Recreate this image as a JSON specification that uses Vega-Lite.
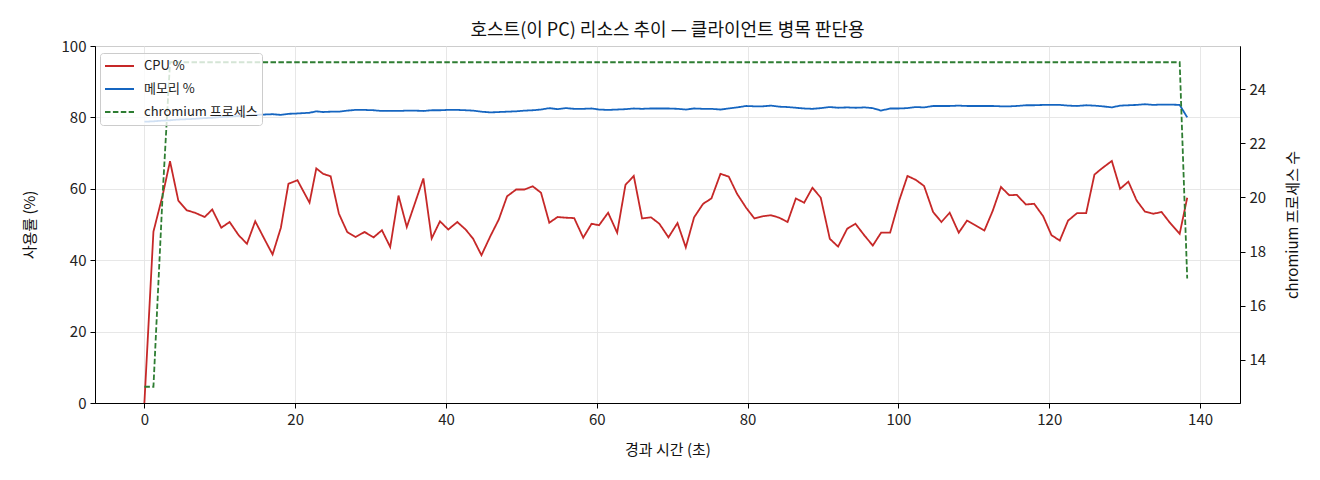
{
  "$schema": "https://vega.github.io/schema/vega-lite/v6.json",
  "width": 1145,
  "height": 357,
  "autosize": {"type": "none"},
  "padding": {"left": 95, "top": 46, "right": 80, "bottom": 77},
  "background": "white",
  "title": {"text": "호스트(이 PC) 리소스 추이 — 클라이언트 병목 판단용", "fontSize": 18, "fontWeight": "normal", "font": "Noto Sans CJK KR", "color": "#111", "offset": -1},
  "config": {
    "view": {"stroke": "#000", "strokeWidth": 1},
    "font": "Noto Sans CJK KR",
    "axis": {"domainColor": "#000", "tickColor": "#000", "tickSize": 5, "labelFontSize": 15, "labelColor": "#222", "titleFontSize": 15, "titleFontWeight": "normal", "titleColor": "#111", "gridColor": "#e4e4e4", "gridWidth": 0.9, "labelPadding": 4},
    "legend": {"title": null, "orient": "none", "legendX": 5, "legendY": 7, "symbolType": "stroke", "symbolSize": 841, "symbolStrokeWidth": 1.8, "clipHeight": 18, "labelOffset": 9, "labelFontSize": 13, "labelColor": "#222", "padding": 4, "rowPadding": 5, "strokeColor": "#cccccc", "fillColor": "rgba(255,255,255,0.8)", "cornerRadius": 3}
  },
  "data": {"values": [
    {"t":0,"cpu":0,"mem":78.8,"proc":13},
    {"t":1.2,"cpu":48.0,"mem":78.9,"proc":13},
    {"t":2.4,"cpu":58.0,"mem":79.1,"proc":20},
    {"t":3.4,"cpu":67.7,"mem":79.2,"proc":25},
    {"t":4.5,"cpu":56.7,"mem":79.4,"proc":25},
    {"t":5.6,"cpu":54.0,"mem":79.5,"proc":25},
    {"t":6.7,"cpu":53.3,"mem":79.6,"proc":25},
    {"t":8.0,"cpu":52.1,"mem":79.8,"proc":25},
    {"t":9.0,"cpu":54.2,"mem":79.9,"proc":25},
    {"t":10.2,"cpu":49.1,"mem":80.1,"proc":25},
    {"t":11.3,"cpu":50.7,"mem":80.2,"proc":25},
    {"t":12.5,"cpu":47.0,"mem":80.4,"proc":25},
    {"t":13.6,"cpu":44.6,"mem":80.5,"proc":25},
    {"t":14.7,"cpu":50.9,"mem":80.7,"proc":25},
    {"t":15.9,"cpu":46.0,"mem":80.8,"proc":25},
    {"t":17.0,"cpu":41.6,"mem":80.9,"proc":25},
    {"t":18.1,"cpu":49.1,"mem":80.7,"proc":25},
    {"t":19.1,"cpu":61.4,"mem":81.0,"proc":25},
    {"t":20.3,"cpu":62.4,"mem":81.1,"proc":25},
    {"t":21.9,"cpu":56.1,"mem":81.3,"proc":25},
    {"t":22.8,"cpu":65.7,"mem":81.7,"proc":25},
    {"t":23.7,"cpu":64.2,"mem":81.5,"proc":25},
    {"t":24.7,"cpu":63.5,"mem":81.6,"proc":25},
    {"t":25.8,"cpu":53.0,"mem":81.6,"proc":25},
    {"t":26.9,"cpu":47.9,"mem":81.9,"proc":25},
    {"t":28.0,"cpu":46.5,"mem":82.1,"proc":25},
    {"t":29.2,"cpu":47.9,"mem":82.1,"proc":25},
    {"t":30.4,"cpu":46.4,"mem":82.0,"proc":25},
    {"t":31.5,"cpu":48.4,"mem":81.8,"proc":25},
    {"t":32.6,"cpu":43.7,"mem":81.8,"proc":25},
    {"t":33.7,"cpu":58.1,"mem":81.8,"proc":25},
    {"t":34.8,"cpu":49.3,"mem":81.9,"proc":25},
    {"t":35.9,"cpu":56.1,"mem":81.9,"proc":25},
    {"t":37.0,"cpu":62.9,"mem":81.8,"proc":25},
    {"t":38.1,"cpu":46.1,"mem":82.0,"proc":25},
    {"t":39.2,"cpu":50.9,"mem":82.0,"proc":25},
    {"t":40.3,"cpu":48.6,"mem":82.1,"proc":25},
    {"t":41.5,"cpu":50.7,"mem":82.1,"proc":25},
    {"t":42.6,"cpu":48.6,"mem":82.0,"proc":25},
    {"t":43.6,"cpu":46.0,"mem":81.9,"proc":25},
    {"t":44.7,"cpu":41.4,"mem":81.6,"proc":25},
    {"t":45.9,"cpu":46.8,"mem":81.4,"proc":25},
    {"t":47.0,"cpu":51.4,"mem":81.5,"proc":25},
    {"t":48.1,"cpu":57.9,"mem":81.6,"proc":25},
    {"t":49.3,"cpu":59.8,"mem":81.7,"proc":25},
    {"t":50.4,"cpu":59.8,"mem":81.9,"proc":25},
    {"t":51.5,"cpu":60.7,"mem":82.0,"proc":25},
    {"t":52.6,"cpu":58.9,"mem":82.2,"proc":25},
    {"t":53.7,"cpu":50.5,"mem":82.6,"proc":25},
    {"t":54.8,"cpu":52.1,"mem":82.3,"proc":25},
    {"t":55.9,"cpu":51.9,"mem":82.6,"proc":25},
    {"t":57.0,"cpu":51.8,"mem":82.4,"proc":25},
    {"t":58.2,"cpu":46.3,"mem":82.4,"proc":25},
    {"t":59.3,"cpu":50.2,"mem":82.5,"proc":25},
    {"t":60.3,"cpu":49.8,"mem":82.2,"proc":25},
    {"t":61.5,"cpu":53.3,"mem":82.1,"proc":25},
    {"t":62.7,"cpu":47.7,"mem":82.2,"proc":25},
    {"t":63.8,"cpu":61.1,"mem":82.3,"proc":25},
    {"t":64.9,"cpu":63.6,"mem":82.5,"proc":25},
    {"t":66.0,"cpu":51.7,"mem":82.4,"proc":25},
    {"t":67.2,"cpu":52.0,"mem":82.5,"proc":25},
    {"t":68.3,"cpu":50.2,"mem":82.5,"proc":25},
    {"t":69.5,"cpu":46.4,"mem":82.5,"proc":25},
    {"t":70.7,"cpu":50.4,"mem":82.4,"proc":25},
    {"t":71.8,"cpu":43.6,"mem":82.2,"proc":25},
    {"t":72.9,"cpu":52.0,"mem":82.5,"proc":25},
    {"t":74.1,"cpu":55.8,"mem":82.4,"proc":25},
    {"t":75.2,"cpu":57.3,"mem":82.4,"proc":25},
    {"t":76.4,"cpu":64.2,"mem":82.2,"proc":25},
    {"t":77.5,"cpu":63.4,"mem":82.5,"proc":25},
    {"t":78.6,"cpu":58.6,"mem":82.8,"proc":25},
    {"t":79.8,"cpu":54.7,"mem":83.2,"proc":25},
    {"t":80.9,"cpu":51.7,"mem":83.1,"proc":25},
    {"t":82.0,"cpu":52.3,"mem":83.1,"proc":25},
    {"t":83.1,"cpu":52.6,"mem":83.3,"proc":25},
    {"t":84.2,"cpu":51.9,"mem":83.0,"proc":25},
    {"t":85.3,"cpu":50.7,"mem":82.9,"proc":25},
    {"t":86.4,"cpu":57.3,"mem":82.7,"proc":25},
    {"t":87.5,"cpu":56.1,"mem":82.5,"proc":25},
    {"t":88.6,"cpu":60.3,"mem":82.4,"proc":25},
    {"t":89.7,"cpu":57.5,"mem":82.6,"proc":25},
    {"t":90.9,"cpu":46.0,"mem":82.9,"proc":25},
    {"t":92.0,"cpu":43.8,"mem":82.7,"proc":25},
    {"t":93.2,"cpu":48.8,"mem":82.8,"proc":25},
    {"t":94.3,"cpu":50.2,"mem":82.7,"proc":25},
    {"t":95.5,"cpu":46.9,"mem":82.8,"proc":25},
    {"t":96.6,"cpu":44.1,"mem":82.6,"proc":25},
    {"t":97.7,"cpu":47.7,"mem":81.9,"proc":25},
    {"t":98.9,"cpu":47.7,"mem":82.5,"proc":25},
    {"t":100.1,"cpu":56.7,"mem":82.5,"proc":25},
    {"t":101.2,"cpu":63.6,"mem":82.6,"proc":25},
    {"t":102.3,"cpu":62.5,"mem":82.9,"proc":25},
    {"t":103.4,"cpu":60.8,"mem":82.8,"proc":25},
    {"t":104.6,"cpu":53.5,"mem":83.2,"proc":25},
    {"t":105.7,"cpu":50.7,"mem":83.2,"proc":25},
    {"t":106.8,"cpu":53.3,"mem":83.2,"proc":25},
    {"t":108.0,"cpu":47.7,"mem":83.3,"proc":25},
    {"t":109.1,"cpu":51.1,"mem":83.2,"proc":25},
    {"t":110.2,"cpu":49.8,"mem":83.2,"proc":25},
    {"t":111.4,"cpu":48.3,"mem":83.2,"proc":25},
    {"t":112.5,"cpu":53.8,"mem":83.2,"proc":25},
    {"t":113.6,"cpu":60.5,"mem":83.1,"proc":25},
    {"t":114.7,"cpu":58.2,"mem":83.1,"proc":25},
    {"t":115.7,"cpu":58.3,"mem":83.2,"proc":25},
    {"t":116.9,"cpu":55.6,"mem":83.4,"proc":25},
    {"t":118.0,"cpu":55.8,"mem":83.4,"proc":25},
    {"t":119.2,"cpu":52.3,"mem":83.5,"proc":25},
    {"t":120.3,"cpu":47.0,"mem":83.5,"proc":25},
    {"t":121.4,"cpu":45.5,"mem":83.5,"proc":25},
    {"t":122.5,"cpu":51.1,"mem":83.3,"proc":25},
    {"t":123.7,"cpu":53.2,"mem":83.2,"proc":25},
    {"t":124.9,"cpu":53.2,"mem":83.4,"proc":25},
    {"t":126.0,"cpu":64.0,"mem":83.3,"proc":25},
    {"t":127.1,"cpu":65.9,"mem":83.1,"proc":25},
    {"t":128.3,"cpu":67.8,"mem":82.8,"proc":25},
    {"t":129.4,"cpu":60.0,"mem":83.3,"proc":25},
    {"t":130.5,"cpu":62.0,"mem":83.4,"proc":25},
    {"t":131.6,"cpu":56.7,"mem":83.5,"proc":25},
    {"t":132.7,"cpu":53.6,"mem":83.7,"proc":25},
    {"t":133.8,"cpu":53.0,"mem":83.5,"proc":25},
    {"t":134.9,"cpu":53.5,"mem":83.6,"proc":25},
    {"t":136.0,"cpu":50.5,"mem":83.6,"proc":25},
    {"t":137.3,"cpu":47.4,"mem":83.5,"proc":25},
    {"t":138.3,"cpu":57.5,"mem":80.0,"proc":17}
  ]},
  "layer": [
    {
      "transform": [{"fold": ["cpu", "mem"], "as": ["series", "value"]}],
      "mark": {"type": "line", "strokeWidth": 1.8},
      "encoding": {
        "x": {"field": "t", "type": "quantitative", "scale": {"domain": [-6.55, 145.3], "nice": false, "zero": false},
              "axis": {"title": "경과 시간 (초)", "values": [0, 20, 40, 60, 80, 100, 120, 140], "grid": true, "titlePadding": 15}},
        "y": {"field": "value", "type": "quantitative", "scale": {"domain": [0, 100], "nice": false},
              "axis": {"title": "사용률 (%)", "values": [0, 20, 40, 60, 80, 100], "grid": true, "titlePadding": 24}},
        "color": {"field": "series", "type": "nominal", "scale": {"domain": ["cpu", "mem", "proc"], "range": ["#c62828", "#1565c0", "#2e7d32"]},
                  "legend": {"labelExpr": "datum.label == 'cpu' ? 'CPU %' : datum.label == 'mem' ? '메모리 %' : 'chromium 프로세스'"}},
        "strokeDash": {"field": "series", "type": "nominal", "scale": {"domain": ["cpu", "mem", "proc"], "range": [[1, 0], [1, 0], [5.5, 2.4]]},
                  "legend": {"labelExpr": "datum.label == 'cpu' ? 'CPU %' : datum.label == 'mem' ? '메모리 %' : 'chromium 프로세스'"}}
      }
    },
    {
      "transform": [{"fold": ["proc"], "as": ["series", "value"]}],
      "mark": {"type": "line", "strokeWidth": 1.8},
      "encoding": {
        "x": {"field": "t", "type": "quantitative"},
        "y": {"field": "value", "type": "quantitative", "scale": {"domain": [12.4, 25.6], "nice": false, "zero": false},
              "axis": {"title": "chromium 프로세스 수", "orient": "right", "values": [14, 16, 18, 20, 22, 24], "grid": false, "titleAngle": 270, "titleBaseline": "top", "titlePadding": 20}},
        "color": {"field": "series", "type": "nominal",
                  "legend": {"labelExpr": "datum.label == 'cpu' ? 'CPU %' : datum.label == 'mem' ? '메모리 %' : 'chromium 프로세스'"}},
        "strokeDash": {"field": "series", "type": "nominal",
                  "legend": {"labelExpr": "datum.label == 'cpu' ? 'CPU %' : datum.label == 'mem' ? '메모리 %' : 'chromium 프로세스'"}}
      }
    }
  ],
  "resolve": {"scale": {"y": "independent"}}
}
